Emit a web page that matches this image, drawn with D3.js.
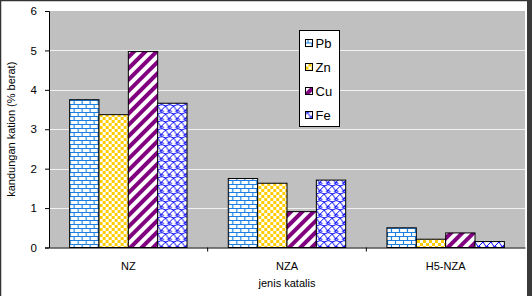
<!DOCTYPE html>
<html lang="en">
<head>
<meta charset="UTF-8">
<title>kandungan kation</title>
<style>
  body { margin: 0; background: #fff; }
  svg text { font-family: "Liberation Sans", Arial, sans-serif; }
</style>
</head>
<body>
<div id="wrapper"></div>
<script src="https://d3js.org/d3.v7.min.js"></script>
<script>
  // data
  const categories = ['NZ', 'NZA', 'H5-NZA'];
  const series = ['Pb', 'Zn', 'Cu', 'Fe'];
  const pbValues = [3.75, 1.75, 0.50];
  const znValues = [3.37, 1.63, 0.21];
  const cuValues = [4.97, 0.91, 0.37];
  const feValues = [3.66, 1.71, 0.15];
  const yTicks = [0, 1, 2, 3, 4, 5, 6];

  const values = { Pb: pbValues, Zn: znValues, Cu: cuValues, Fe: feValues };

  const width = 532, height = 296;
  const plot = { left: 49, top: 11, right: 525, bottom: 247.5 };

  const svg = d3.select('#wrapper').append('svg')
    .attr('width', width)
    .attr('height', height);

  // patterns
  const defs = svg.append('defs');

  // Pb: blue bricks
  const brick = defs.append('pattern').attr('id', 'p-Pb')
    .attr('patternUnits', 'userSpaceOnUse').attr('width', 8).attr('height', 8);
  brick.append('rect').attr('width', 8).attr('height', 8).attr('fill', '#fff');
  brick.append('path')
    .attr('d', 'M0,0.5H8M0,4.5H8M0.5,0.5V4.5M4.5,4.5V8.5')
    .attr('stroke', '#1a7fe0').attr('stroke-width', 1.2).attr('fill', 'none');

  // Zn: gold checkerboard
  const chk = defs.append('pattern').attr('id', 'p-Zn')
    .attr('patternUnits', 'userSpaceOnUse').attr('width', 6).attr('height', 6);
  chk.append('rect').attr('width', 6).attr('height', 6).attr('fill', '#fff');
  chk.append('rect').attr('width', 3).attr('height', 3).attr('fill', '#ffcc00');
  chk.append('rect').attr('x', 3).attr('y', 3).attr('width', 3).attr('height', 3).attr('fill', '#ffcc00');

  // Cu: purple wide diagonal
  const diag = defs.append('pattern').attr('id', 'p-Cu')
    .attr('patternUnits', 'userSpaceOnUse').attr('width', 8).attr('height', 8)
    .attr('patternTransform', 'rotate(45)');
  diag.append('rect').attr('width', 8).attr('height', 8).attr('fill', '#fff');
  diag.append('rect').attr('width', 4).attr('height', 8).attr('fill', '#800080');

  // Fe: blue shingle
  const shg = defs.append('pattern').attr('id', 'p-Fe')
    .attr('patternUnits', 'userSpaceOnUse').attr('width', 8).attr('height', 8);
  shg.append('rect').attr('width', 8).attr('height', 8).attr('fill', '#fff');
  shg.append('path')
    .attr('d', 'M0,2Q4,-1 8,2M0,2L4,8M8,2L4,6Q2,7 0,10M4,6Q6,7 8,10')
    .attr('stroke', '#0000ff').attr('stroke-width', 1).attr('fill', 'none');

  // frame
  svg.append('rect').attr('x', 0.5).attr('y', 0.5)
    .attr('width', width - 4).attr('height', height + 4)
    .attr('fill', 'none').attr('stroke', '#333').attr('stroke-width', 1.5);
  svg.append('rect').attr('x', 527).attr('y', 0).attr('width', 5).attr('height', height)
    .attr('fill', '#3a3a3a');

  // scales
  const x0 = d3.scaleBand().domain(categories)
    .range([plot.left, plot.right]).paddingInner(0).paddingOuter(0);
  const groupW = x0.bandwidth() * 0.74;
  const x1 = d3.scaleBand().domain(series).range([0, groupW]);
  const y = d3.scaleLinear().domain([0, 6]).range([plot.bottom, plot.top]);

  // plot area
  svg.append('rect')
    .attr('x', plot.left).attr('y', plot.top)
    .attr('width', plot.right - plot.left).attr('height', plot.bottom - plot.top)
    .attr('fill', '#c0c0c0');

  // gridlines
  svg.append('g').selectAll('line').data(yTicks.filter(d => d > 0 && d < 6)).join('line')
    .attr('x1', plot.left).attr('x2', plot.right)
    .attr('y1', d => Math.round(y(d)) + 0.5).attr('y2', d => Math.round(y(d)) + 0.5)
    .attr('stroke', '#f2f2f2').attr('stroke-width', 1);

  // bars
  const groups = svg.append('g').selectAll('g').data(categories).join('g')
    .attr('transform', d => `translate(${x0(d) + (x0.bandwidth() - groupW) / 2},0)`);
  groups.selectAll('rect')
    .data((c, i) => series.map(s => ({ s, v: values[s][i] })))
    .join('rect')
    .attr('x', d => x1(d.s))
    .attr('y', d => y(d.v))
    .attr('width', x1.bandwidth())
    .attr('height', d => y(0) - y(d.v))
    .attr('fill', d => `url(#p-${d.s})`)
    .attr('stroke', '#000').attr('stroke-width', 1);

  // y axis
  const yAxis = d3.axisLeft(y).tickValues(yTicks).tickFormat(d3.format('d'))
    .tickSize(4).tickPadding(8);
  const gy = svg.append('g').attr('transform', `translate(${plot.left},0)`).call(yAxis);
  gy.selectAll('text').attr('font-size', 11.5).attr('fill', '#000')
    .style('font-family', '"Liberation Sans", Arial, sans-serif');
  gy.selectAll('line, path').attr('stroke', '#000');

  // x axis
  const xAxis = d3.axisBottom(x0).tickSize(0).tickPadding(15);
  const gx = svg.append('g').attr('transform', `translate(0,${plot.bottom})`).call(xAxis);
  gx.selectAll('text').attr('font-size', 11).attr('fill', '#000')
    .style('font-family', '"Liberation Sans", Arial, sans-serif');
  gx.select('path').attr('stroke', '#000');
  gx.append('g').selectAll('line').data(categories.slice(1)).join('line')
    .attr('x1', d => x0(d)).attr('x2', d => x0(d))
    .attr('y1', 0).attr('y2', 4).attr('stroke', '#000');

  // axis titles
  svg.append('text')
    .attr('x', (plot.left + plot.right) / 2).attr('y', 287)
    .attr('text-anchor', 'middle').attr('font-size', 11)
    .text('jenis katalis');
  svg.append('text')
    .attr('transform', `translate(15,${(plot.top + plot.bottom) / 2}) rotate(-90)`)
    .attr('text-anchor', 'middle').attr('font-size', 11)
    .text('kandungan kation (% berat)');

  // legend
  const lg = svg.append('g').attr('transform', 'translate(299.5,30.5)');
  lg.append('rect').attr('width', 40).attr('height', 96)
    .attr('fill', '#fff').attr('stroke', '#000');
  series.forEach((s, i) => {
    const yy = 13 + i * 24;
    lg.append('rect').attr('x', 6).attr('y', yy - 4).attr('width', 7).attr('height', 7)
      .attr('fill', `url(#p-${s})`).attr('stroke', '#000');
    lg.append('text').attr('x', 16).attr('y', yy + 4.5)
      .attr('font-size', 13).text(s);
  });
</script>
</body>
</html>
